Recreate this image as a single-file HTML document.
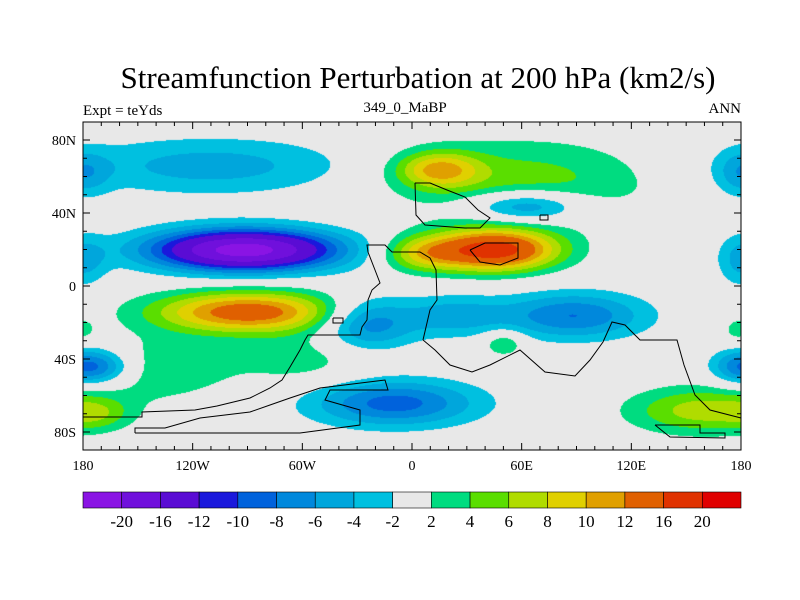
<!DOCTYPE html>
<html><head><meta charset="utf-8"><style>
body{margin:0;background:#fff;}
#wrap{position:relative;width:800px;height:600px;overflow:hidden;font-family:"Liberation Serif",serif;}
.t{position:absolute;color:#000;white-space:nowrap;}
</style></head><body>
<div id="wrap">
<div class="t" style="left:0;width:836px;text-align:center;top:60px;font-size:31px;">Streamfunction Perturbation at 200 hPa (km2/s)</div>
<div class="t" style="left:83px;top:103px;font-size:15px;">Expt = teYds</div>
<div class="t" style="left:300px;width:210px;text-align:center;top:100px;font-size:15px;">349_0_MaBP</div>
<div class="t" style="right:59px;top:101px;font-size:15px;">ANN</div>
<canvas id="cv" width="658" height="328" style="position:absolute;left:83px;top:122px;"></canvas>
<svg id="sv" width="800" height="600" style="position:absolute;left:0;top:0;"></svg>
</div>
<script>
const levels=[-20,-16,-12,-10,-8,-6,-4,-2,2,4,6,8,10,12,16,20];
const levelLabels=["-20","-16","-12","-10","-8","-6","-4","-2","2","4","6","8","10","12","16","20"];
const colors=["#8a14e4","#7010dc","#5a0cd4","#1a18dc","#0062dc","#0088dc","#00a6dc","#00c0e0","#e8e8e8","#00dc80","#5ade00","#b0dc00","#e0d000","#e0a000","#e06000","#e03200","#e00000"];
const blobLon=[-110,-92,-90,-140,-120,-170,-172,-10,-25,14,60,62,45,5,88,22,50,158,180,180,180,178,-60];
const blobLat=[66,20,-14,-45,43,-44,-70,-64,-20,64,58,44,20,18,-16,-16,-31,-68,62,14,-44,-24,-40];
const blobAmp=[-5,-22,14,4,2.2,-6,3,-9,-8,9,5,-8,18,7,-8,-5,4.5,7,-4.5,-4.5,-5.5,2.5,3];
const blobSx=[55,36,36,30,5,15,12,32,18,16,50,22,24,16,28,20,8,28,10,9,12,6,25];
const blobSy=[11,8,8,12,1.5,7,6,9,10,7,16,6,8,7,9,8,5,9,9,10,7,5,10];
const cv=document.getElementById('cv'),ctx=cv.getContext('2d');
const W=658,H=328;
function lonX(l){return 83+(l+180)/360*658;}
function latY(l){return 286-l*1.825;}
function field(lon,lat){let v=0;for(let i=0;i<blobLon.length;i++){for(const s of [-360,0,360]){const dx=(lon-blobLon[i]-s)/blobSx[i],dy=(lat-blobLat[i])/blobSy[i];if(Math.abs(dx)>5)continue;v+=blobAmp[i]*Math.exp(-0.5*(dx*dx+dy*dy));}}return v;}
function hex(c){return [parseInt(c.substr(1,2),16),parseInt(c.substr(3,2),16),parseInt(c.substr(5,2),16)];}
const rgb=colors.map(hex);
const img=ctx.createImageData(W,H);
for(let py=0;py<H;py++){const lat=(286-(122+py))/1.825;for(let px=0;px<W;px++){const lon=px/W*360-180;const v=field(lon,lat);let k=0;while(k<levels.length&&v>=levels[k])k++;const c=rgb[k];const o=(py*W+px)*4;img.data[o]=c[0];img.data[o+1]=c[1];img.data[o+2]=c[2];img.data[o+3]=255;}}
ctx.putImageData(img,0,0);
const sv=document.getElementById('sv');const NS="http://www.w3.org/2000/svg";
function mk(t,a,name,txt){const e=document.createElementNS(NS,t);for(const k in a)e.setAttribute(k,a[k]);


if(txt!==undefined)e.textContent=txt;sv.appendChild(e);return e;}
const coasts=[
"83,417 142,417 142,412 195,410 217,406 250,398 270,388 282,380 290,367 300,350 305,340 308,335 360,335 362,327 367,320 368,300 372,290 380,283 375,270 368,252 367,245 385,245 392,252 420,252 430,258 436,270 437,300 430,310 423,340 435,350 450,365 472,372 490,365 520,350 545,372 575,376 590,360 603,342 612,322 625,325 640,340 677,340 684,365 695,395 710,410 741,418",
"135,433 135,428 165,428 200,418 250,412 270,405 290,398 320,388 385,380 388,390 330,390 325,400 360,410 360,425 300,433 135,433",
"415,183 430,183 447,190 465,197 478,210 490,218 480,228 465,228 425,225 416,215 415,183",
"470,250 485,243 518,243 518,258 500,265 480,262 470,250",
"655,425 700,425 700,433 725,433 725,438 670,437 655,425",
"540,215 548,215 548,220 540,220 540,215",
"333,318 343,318 343,323 333,323 333,318"];
coasts.forEach((p,i)=>mk('polyline',{points:p,fill:'none',stroke:'#000','stroke-width':1},'coastline-'+i));
mk('rect',{x:83,y:122,width:658,height:328,fill:'none',stroke:'#000','stroke-width':1},'plot-frame');
for(let lon=-180;lon<=180;lon+=10){const x=lonX(lon),maj=lon%60===0;
mk('line',{x1:x,x2:x,y1:450,y2:450-(maj?7:4),stroke:'#000'},'x-tick');
mk('line',{x1:x,x2:x,y1:122,y2:122+(maj?7:4),stroke:'#000'},'x-tick-top');}
for(let lat=-80;lat<=80;lat+=10){const y=latY(lat),maj=lat%40===0;
mk('line',{x1:83,x2:83+(maj?7:4),y1:y,y2:y,stroke:'#000'},'y-tick');
mk('line',{x1:741,x2:741-(maj?7:4),y1:y,y2:y,stroke:'#000'},'y-tick-right');}
const xLabels=["180","120W","60W","0","60E","120E","180"];
xLabels.forEach((t,i)=>mk('text',{x:lonX(-180+i*60),y:470,'text-anchor':'middle','font-size':14,'font-family':'Liberation Serif, serif'},'x-tick-label',t));
const yLabels=["80N","40N","0","40S","80S"];
yLabels.forEach((t,i)=>mk('text',{x:76,y:latY(80-i*40)+5,'text-anchor':'end','font-size':14,'font-family':'Liberation Serif, serif'},'y-tick-label',t));
const bw=658/colors.length;
colors.forEach((c,i)=>mk('rect',{x:83+i*bw,y:492,width:bw,height:16,fill:c,stroke:'#000','stroke-width':0.6},'colorbar-box'));
levelLabels.forEach((t,i)=>mk('text',{x:83+(i+1)*bw,y:527,'text-anchor':'middle','font-size':17,'font-family':'Liberation Serif, serif'},'colorbar-label',t));
</script>
</body></html>
